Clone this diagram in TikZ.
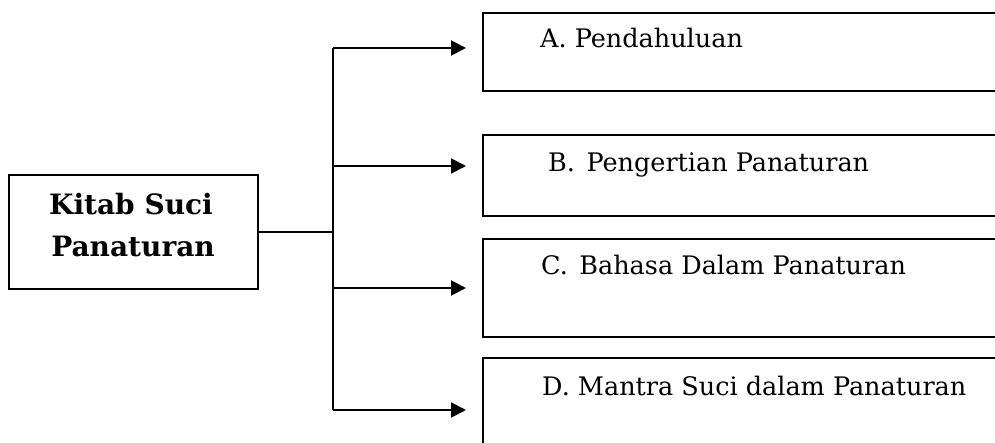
\documentclass[tikz,border=0pt]{standalone}
\usepackage{fontspec}
\setmainfont{DejaVu Serif}
\usetikzlibrary{arrows.meta}
\begin{document}
\begin{tikzpicture}[x=1pt,y=-1pt,
  line/.style={line width=2pt},
  arr/.style={line width=2pt,-{Triangle[length=15pt,width=15pt]}},
  box/.style={draw,line width=2pt,inner sep=0pt,anchor=north west},
  item/.style={anchor=base west,inner sep=0pt,font=\fontsize{25.5}{30}\selectfont},
  main/.style={align=center,inner sep=0pt,font=\fontsize{28}{42}\selectfont\bfseries}]
\useasboundingbox (0,0) rectangle (995,443);
\clip (0,0) rectangle (995,443);
% main box
\node[box,minimum width=249pt,minimum height=114pt] (M) at (8,174) {};
\node[main,anchor=base] (Mt1) at (131,215) {Kitab Suci};
\node[main,anchor=base] (Mt2) at (133,257) {Panaturan};
% right boxes
\node[box,minimum width=540pt,minimum height=78pt] (bA) at (482,12) {};
\node[box,minimum width=540pt,minimum height=81pt] (bB) at (482,134) {};
\node[box,minimum width=540pt,minimum height=98pt] (bC) at (482,238) {};
\node[box,minimum width=540pt,minimum height=120pt] (bD) at (482,357) {};
\node[item] (tA) at (540,48) {A. Pendahuluan};
\node[item] (tB) at (548,172) {B.\hspace{0.45em}Pengertian Panaturan};
\node[item] (tC) at (541,275) {C.\hspace{0.45em}Bahasa Dalam Panaturan};
\node[item] (tD) at (542,395) {D. Mantra Suci dalam Panaturan};
% connectors
\coordinate (j) at (333,232);
\coordinate (tTop) at (333,48);
\coordinate (tBot) at (333,410);
\coordinate (tB0) at (333,166);
\coordinate (tC0) at (333,288);
\coordinate (eA) at (466,48);
\coordinate (eB) at (466,166);
\coordinate (eC) at (466,288);
\coordinate (eD) at (466,410);
\draw[line] (M.east|-j) -- (j);
\draw[line] (tTop) -- (tBot);
\draw[arr] (tTop) -- (eA);
\draw[arr] (tB0) -- (eB);
\draw[arr] (tC0) -- (eC);
\draw[arr] (tBot) -- (eD);
\end{tikzpicture}
\end{document}
